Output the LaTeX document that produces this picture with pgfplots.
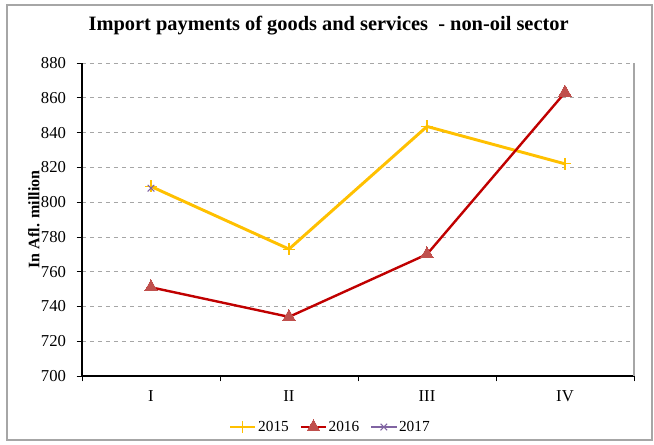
\documentclass[border=0pt]{standalone}
\usepackage{fontspec}
\setmainfont{Liberation Serif}
\usepackage{pgfplots}
\pgfplotsset{compat=1.18}
\definecolor{c15}{HTML}{FFC000}
\definecolor{c16}{HTML}{C00000}
\definecolor{m16}{HTML}{C0504D}
\definecolor{c17}{HTML}{8064A2}
\definecolor{frame}{HTML}{A6A6A6}
\begin{document}
\begin{tikzpicture}
\useasboundingbox (-61.5pt,-51.75pt) rectangle (429pt,282pt);
\draw[frame, line width=0.9pt] (-56.25pt,-48pt) rectangle (427.5pt,278.25pt);
\node[font=\fontsize{15.3}{17}\selectfont\bfseries] at (185pt,263pt) {Import payments of goods and services \ - non-oil sector};
\begin{axis}[
  at={(0,0)}, anchor=south west,
  width=414pt, height=234.75pt, scale only axis,
  xmin=-0.5, xmax=3.5, ymin=700, ymax=880,
  ytick={700,720,...,880},
  xtick={0,1,2,3}, xticklabels={I,II,III,IV},
  minor xtick={-0.5,0.5,1.5,2.5,3.5},
  axis x line*=bottom, axis y line*=left,
  axis line style={black, line width=0.9pt, -},
  major x tick style={draw=none},
  minor x tick style={black, line width=0.5pt},
  major y tick style={black, line width=0.5pt},
  tick align=outside,
  major tick length=4pt, minor tick length=4pt,
  ymajorgrids,
  major grid style={gray!70, dashed, line width=0.5pt},
  ticklabel style={font=\fontsize{12.5}{14}\selectfont},
  /pgf/number format/assume math mode=true,
  xticklabel style={yshift=-3.5pt},
  yticklabel style={xshift=-4.5pt},
  ylabel={\bfseries In Afl. million},
  ylabel style={font=\fontsize{12}{14}\selectfont, at={(-0.087,0.5)}, anchor=center},
  legend columns=3,
  legend style={draw=none, fill=none, at={(0.449,-0.163)}, anchor=center,
    font=\fontsize{11.5}{13}\selectfont, column sep=0pt, inner sep=0pt,
    /tikz/every even column/.append style={column sep=7pt},
    nodes={inner xsep=1pt}},
  legend image code/.code={\draw[#1] (0pt,0pt) -- (9.5pt,0pt) -- (19pt,0pt); \path[#1] plot coordinates {(9.5pt,0pt)};},
  clip=false,
]
\addplot[c15, line width=2.2pt, mark=+, mark size=4.5pt, mark options={line width=0.8pt}]
  coordinates {(0,809) (1,773) (2,843.5) (3,822)};
\addlegendentry{2015}
\addplot[c16, line width=1.8pt, mark=triangle*, mark size=5.5pt, mark options={fill=m16, draw=m16, line width=0pt}]
  coordinates {(0,751) (1,734) (2,770) (3,863)};
\addlegendentry{2016}
\addplot[c17, line width=1.8pt, mark=x, mark size=3.5pt, mark options={line width=0.8pt}]
  coordinates {(0,808)};
\addlegendentry{2017}
\draw[frame, line width=0.9pt] (rel axis cs:1,0) -- (rel axis cs:1,1);
\end{axis}
\end{tikzpicture}
\end{document}
